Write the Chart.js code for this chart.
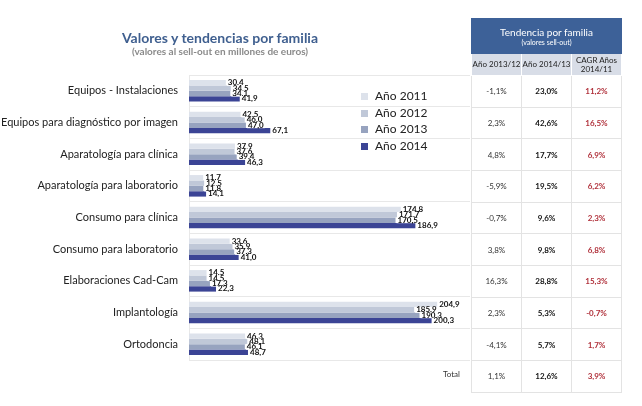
<!DOCTYPE html>
<html>
<head>
<meta charset="utf-8">
<script src="https://cdn.jsdelivr.net/npm/chart.js@4"></script>
<style>
  body { margin: 0; background: #fff; font-family: Lato, "Open Sans", sans-serif; }
  #wrap { position: relative; width: 642px; height: 406px; overflow: hidden; }
  #c { position: absolute; left: 0; top: 0; }
  .title { position: absolute; left: 0; width: 440px; text-align: center; }
  #t1 { top: 29px; font-size: 14px; font-weight: bold; color: #3f5f8f; }
  #t2 { top: 45px; font-size: 10px; font-weight: bold; color: #8a8a8a; }
  #legend { position: absolute; left: 361px; top: 88px; font-size: 12px; color: #222; }
  #legend div { height: 16.5px; line-height: 16.5px; }
  #legend span { display: inline-block; width: 7px; height: 7px; margin-right: 7px; vertical-align: 0px; }
  table { position: absolute; left: 471px; top: 18px; border-collapse: collapse; font-size: 8px; table-layout: fixed; }
  td { width: 49px; text-align: center; border: 1px solid #e3e3e3; padding: 0; color: #333; white-space: nowrap; }
  .head { background: #3d6198; color: #fff; height: 34px; font-size: 10px; border-color: #3d6198; }
  .head small { font-size: 7px; display: block; }
  .sub { background: #d8dde7; height: 21px; color: #222; line-height: 9px; border-color: #fff; }
  .b { font-weight: bold; color: #111; }
  .r { font-weight: bold; color: #b0303a; }
  #total { position: absolute; left: 443px; top: 369px; font-size: 8px; color: #333; }
</style>
</head>
<body>
<div id="wrap">
  <canvas id="c" width="642" height="406"></canvas>
  <div class="title" id="t1">Valores y tendencias por familia</div>
  <div class="title" id="t2">(valores al sell-out en millones de euros)</div>
  <div id="legend"></div>
  <table id="tbl"></table>
  <div id="total">Total</div>
</div>
<script>
// categorias y valores (millones de euros)
const familias = [
    'Equipos - Instalaciones',
    'Equipos para diagnóstico por imagen',
    'Aparatología para clínica',
    'Aparatología para laboratorio',
    'Consumo para clínica',
    'Consumo para laboratorio',
    'Elaboraciones Cad-Cam',
    'Implantología',
    'Ortodoncia'
];
const anios = ['Año 2011', 'Año 2012', 'Año 2013', 'Año 2014'];
const v2011 = [30.4, 42.5, 37.9, 11.7, 174.8, 33.6, 14.5, 204.9, 46.3];
const v2012 = [34.5, 46.0, 37.6, 12.5, 171.7, 35.9, 14.5, 185.9, 48.1];
const v2013 = [34.1, 47.0, 39.4, 11.8, 170.5, 37.3, 17.3, 190.3, 46.1];
const v2014 = [41.9, 67.1, 46.3, 14.1, 186.9, 41.0, 22.3, 200.3, 48.7];
const colores = ['#dde2eb', '#c0c8d8', '#97a3bf', '#3b4495'];

// tabla de tendencias
const tend1312 = ['-1,1%', '2,3%', '4,8%', '-5,9%', '-0,7%', '3,8%', '16,3%', '2,3%', '-4,1%', '1,1%'];
const tend1413 = ['23,0%', '42,6%', '17,7%', '19,5%', '9,6%', '9,8%', '28,8%', '5,3%', '5,7%', '12,6%'];
const cagr = ['11,2%', '16,5%', '6,9%', '6,2%', '2,3%', '6,8%', '15,3%', '-0,7%', '1,7%', '3,9%'];

const fmt = v => v.toFixed(1).replace('.', ',');

// leyenda
const legend = document.getElementById('legend');
anios.forEach((a, i) => {
    const d = document.createElement('div');
    d.innerHTML = '<span style="background:' + colores[i] + '"></span>' + a;
    legend.appendChild(d);
});

// tabla
const rowH = 285 / 9;
let html = '<tr><td colspan="3" class="head">Tendencia por familia<small>(valores sell-out)</small></td></tr>';
html += '<tr><td class="sub">Año 2013/12</td><td class="sub">Año 2014/13</td><td class="sub">CAGR Años<br>2014/11</td></tr>';
for (let i = 0; i < tend1312.length; i++) {
    html += '<tr style="height:' + rowH + 'px"><td>' + tend1312[i] + '</td><td class="b">' + tend1413[i] + '</td><td class="r">' + cagr[i] + '</td></tr>';
}
document.getElementById('tbl').innerHTML = html;

// etiquetas de valor al final de cada barra
const etiquetas = {
    id: 'etiquetas',
    afterDatasetsDraw(chart) {
        const ctx = chart.ctx;
        ctx.save();
        ctx.font = 'bold 8px Lato, sans-serif';
        ctx.textBaseline = 'middle';
        chart.data.datasets.forEach((ds, di) => {
            chart.getDatasetMeta(di).data.forEach((bar, i) => {
                const txt = fmt(ds.data[i]);
                const w = ctx.measureText(txt).width;
                const x = bar.x + 2;
                const y = bar.y;
                ctx.fillStyle = '#fff';
                ctx.fillRect(x - 1, y - 3, w + 2, 6);
                ctx.fillStyle = '#111';
                ctx.fillText(txt, x, y);
            });
        });
        ctx.restore();
    }
};

new Chart(document.getElementById('c'), {
    type: 'bar',
    data: {
        labels: familias,
        datasets: [
            { label: anios[0], data: v2011, backgroundColor: colores[0] },
            { label: anios[1], data: v2012, backgroundColor: colores[1] },
            { label: anios[2], data: v2013, backgroundColor: colores[2] },
            { label: anios[3], data: v2014, backgroundColor: colores[3] }
        ]
    },
    options: {
        indexAxis: 'y',
        responsive: false,
        animation: false,
        categoryPercentage: 0.68,
        barPercentage: 1.0,
        layout: { padding: { top: 75, bottom: 46, left: 0, right: 172 } },
        plugins: { legend: { display: false }, tooltip: { enabled: false } },
        scales: {
            x: { display: false, min: 0, max: 232 },
            y: {
                afterFit: s => { s.width = 189; },
                grid: { color: '#e8e8e8', drawTicks: false },
                border: { color: '#e8e8e8' },
                ticks: { color: '#222', padding: 11, font: { family: 'Lato', size: 11 } }
            }
        }
    },
    plugins: [etiquetas]
});
</script>
</body>
</html>
